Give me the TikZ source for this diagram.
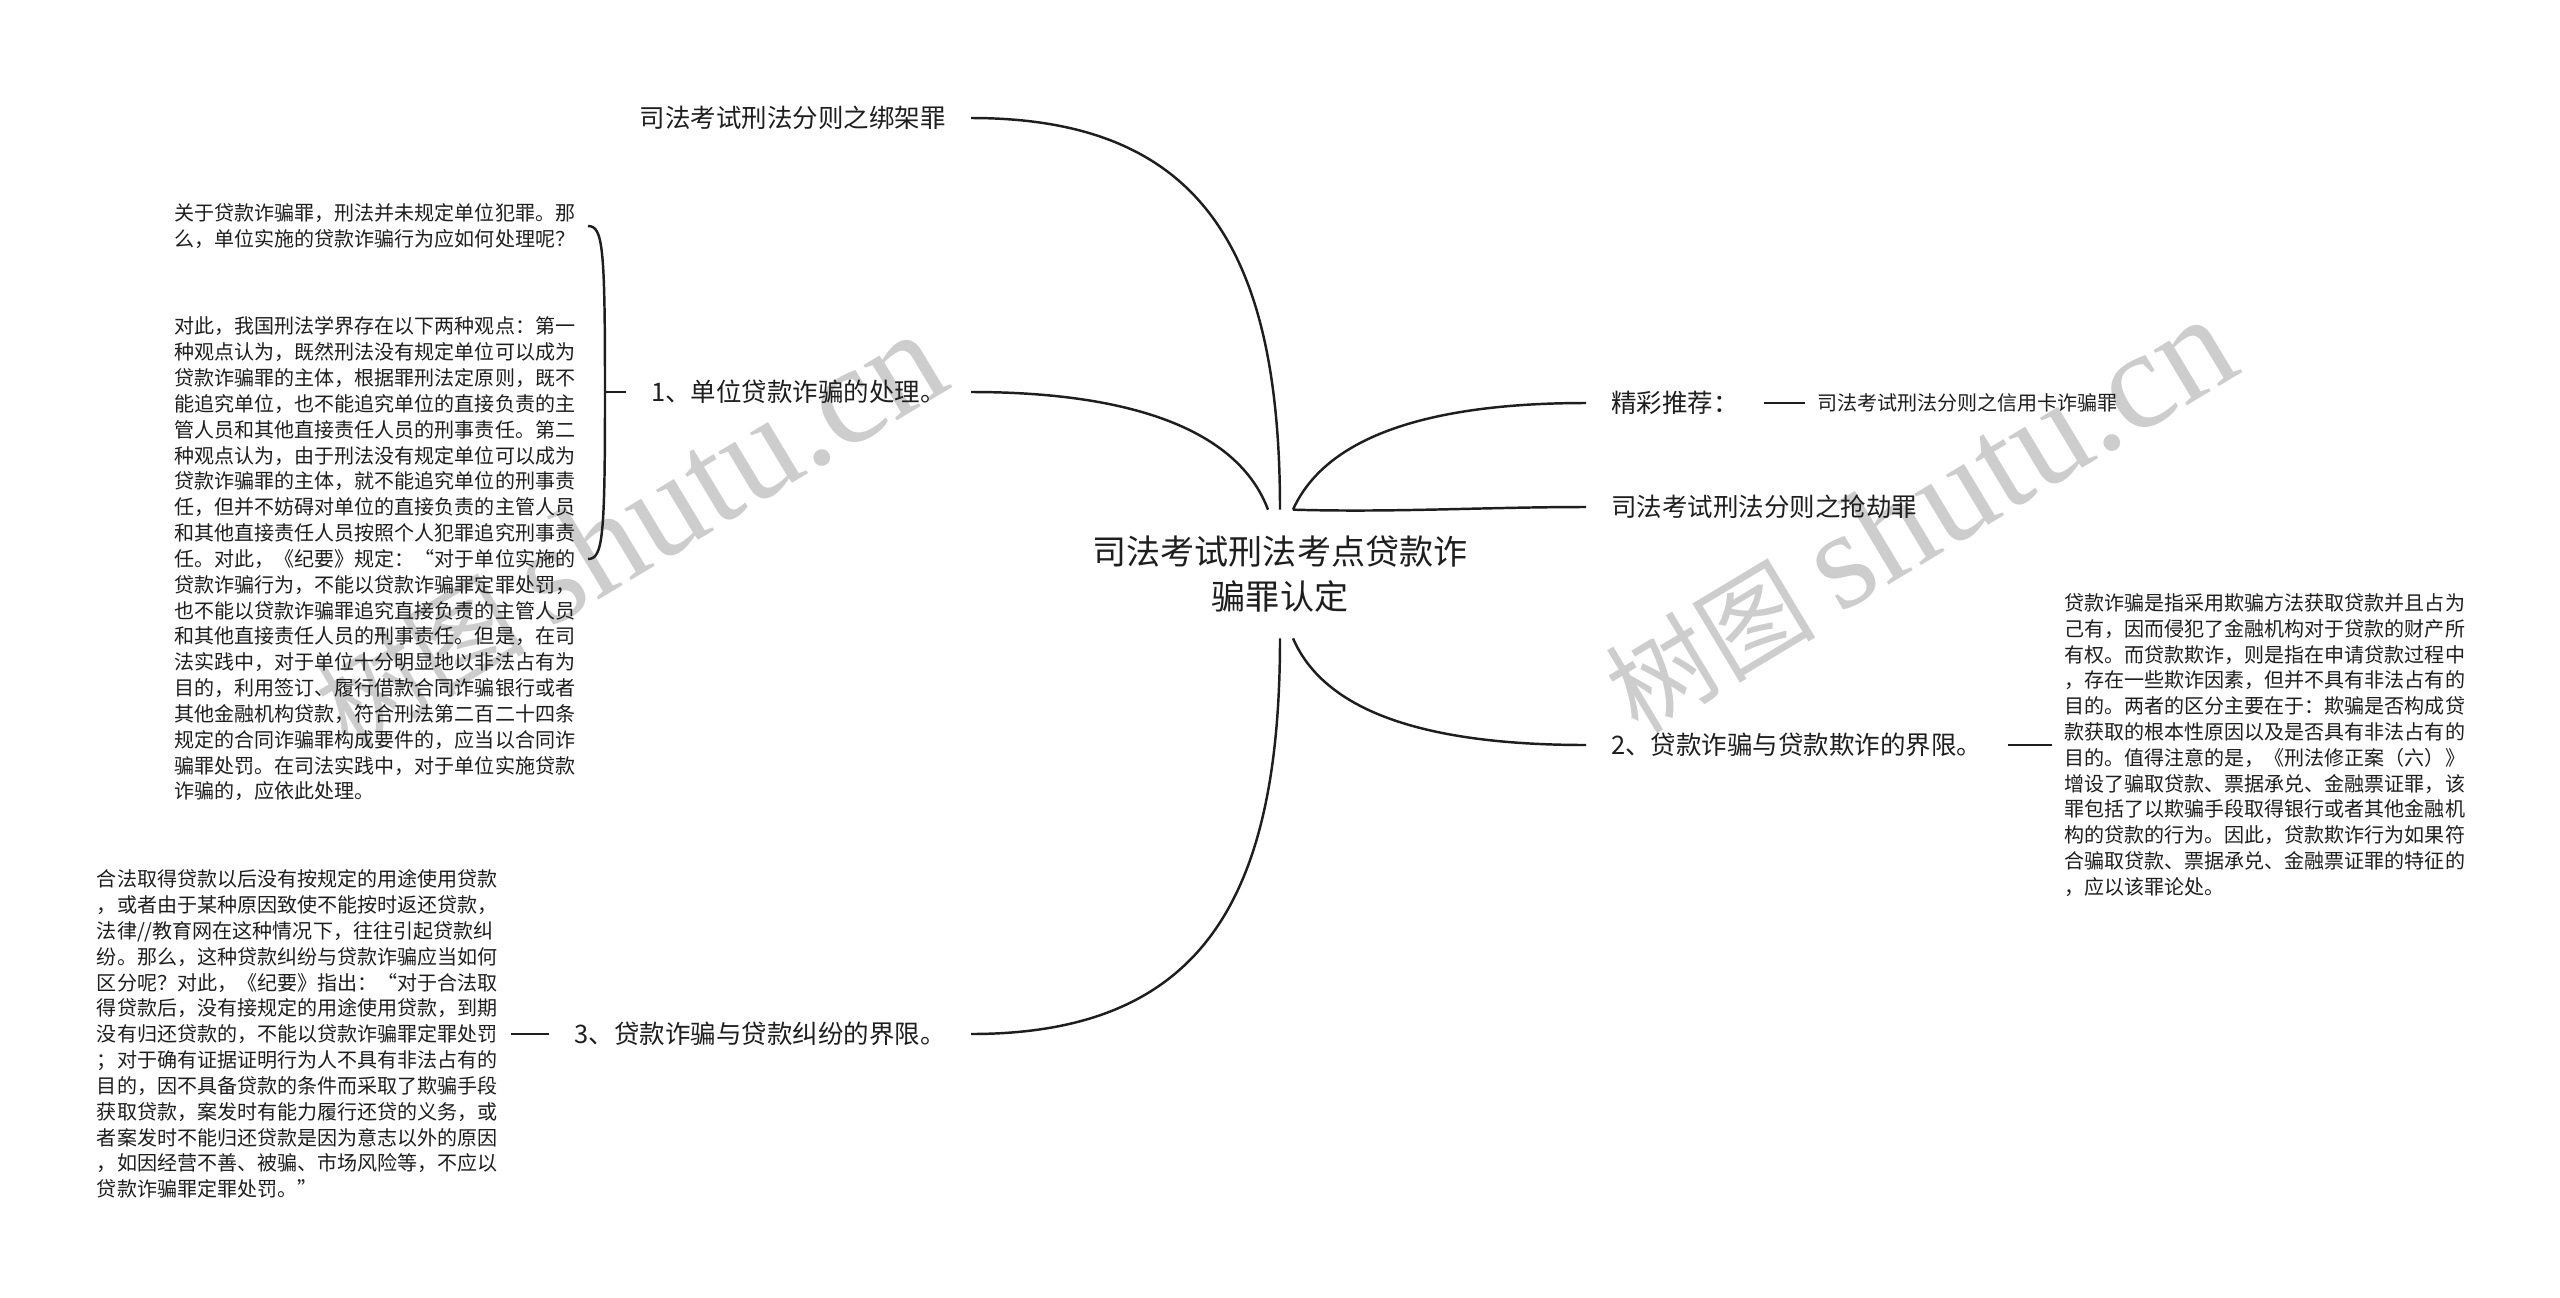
\documentclass[tikz,border=0pt]{standalone}
\usepackage{fontspec}
\setmainfont{Noto Sans CJK SC}
\newfontfamily\wmlatin{Liberation Serif}
\usetikzlibrary{calc}
\definecolor{Ink}{HTML}{1E1E1E}
\definecolor{Mark}{HTML}{CDCDCD}

\begin{document}
\begin{tikzpicture}[
  root/.style={font=\fontsize{19.4}{25.5}\selectfont,align=center,text=Ink,inner sep=0pt,minimum height=2.56cm},
  topic/.style={font=\fontsize{14.5}{18}\selectfont,text=Ink,inner xsep=0.5cm,inner ysep=0.1cm},
  leaf/.style={font=\fontsize{11.4}{14.7}\selectfont,align=left,text=Ink,inner xsep=0.25cm,inner ysep=0.1cm},
  wmark/.style={font=\fontsize{60}{60}\selectfont,text=Mark,inner sep=0pt,rotate=31},
  branch/.style={draw=Ink,line width=1.4pt},
  stub/.style={draw=Ink,line width=1.4pt}
]
\useasboundingbox (0,0) rectangle (51.2,-25.94);
\fill[white] (0,0) rectangle (51.2,-25.94);
% watermarks
\node[wmark] (wmleft) at (12.57,-10.6) {树图 {\wmlatin\fontsize{80}{80}\selectfont shutu.cn}};
\node[wmark] (wmright) at (38.37,-10.3) {树图 {\wmlatin\fontsize{80}{80}\selectfont shutu.cn}};
% centre and main topics
\node[root] (root) at (25.6,-11.48) {司法考试刑法考点贷款诈\\骗罪认定};
\node[topic,anchor=east] (kidnap) at (19.42,-2.36) {司法考试刑法分则之绑架罪};
\node[topic,anchor=east] (unitfraud) at (19.42,-7.84) {1、单位贷款诈骗的处理。};
\node[topic,anchor=east] (disputevs) at (19.42,-20.68) {3、贷款诈骗与贷款纠纷的界限。};
\node[topic,anchor=west] (recommend) at (31.72,-8.06) {精彩推荐：};
\node[topic,anchor=west] (robbery) at (31.72,-10.14) {司法考试刑法分则之抢劫罪};
\node[topic,anchor=west] (fraudvs) at (31.72,-14.9) {2、贷款诈骗与贷款欺诈的界限。};
% leaves
\node[leaf,anchor=west] (creditcard) at (36.09,-8.06) {司法考试刑法分则之信用卡诈骗罪};
\node[leaf,anchor=east] (unitq) at (11.76,-4.52) {关于贷款诈骗罪，刑法并未规定单位犯罪。那\\
么，单位实施的贷款诈骗行为应如何处理呢？};
\node[leaf,anchor=east] (unitans) at (11.76,-11.18) {对此，我国刑法学界存在以下两种观点：第一\\
种观点认为，既然刑法没有规定单位可以成为\\
贷款诈骗罪的主体，根据罪刑法定原则，既不\\
能追究单位，也不能追究单位的直接负责的主\\
管人员和其他直接责任人员的刑事责任。第二\\
种观点认为，由于刑法没有规定单位可以成为\\
贷款诈骗罪的主体，就不能追究单位的刑事责\\
任，但并不妨碍对单位的直接负责的主管人员\\
和其他直接责任人员按照个人犯罪追究刑事责\\
任。对此，《纪要》规定：“对于单位实施的\\
贷款诈骗行为，不能以贷款诈骗罪定罪处罚，\\
也不能以贷款诈骗罪追究直接负责的主管人员\\
和其他直接责任人员的刑事责任。但是，在司\\
法实践中，对于单位十分明显地以非法占有为\\
目的，利用签订、履行借款合同诈骗银行或者\\
其他金融机构贷款，符合刑法第二百二十四条\\
规定的合同诈骗罪构成要件的，应当以合同诈\\
骗罪处罚。在司法实践中，对于单位实施贷款\\
诈骗的，应依此处理。};
\node[leaf,anchor=east] (disputetxt) at (10.21,-20.68) {合法取得贷款以后没有按规定的用途使用贷款\\
，或者由于某种原因致使不能按时返还贷款，\\
法律//教育网在这种情况下，往往引起贷款纠\\
纷。那么，这种贷款纠纷与贷款诈骗应当如何\\
区分呢？对此，《纪要》指出：“对于合法取\\
得贷款后，没有接规定的用途使用贷款，到期\\
没有归还贷款的，不能以贷款诈骗罪定罪处罚\\
；对于确有证据证明行为人不具有非法占有的\\
目的，因不具备贷款的条件而采取了欺骗手段\\
获取贷款，案发时有能力履行还贷的义务，或\\
者案发时不能归还贷款是因为意志以外的原因\\
，如因经营不善、被骗、市场风险等，不应以\\
贷款诈骗罪定罪处罚。”};
\node[leaf,anchor=west] (fraudtxt) at (41.03,-14.9) {贷款诈骗是指采用欺骗方法获取贷款并且占为\\
己有，因而侵犯了金融机构对于贷款的财产所\\
有权。而贷款欺诈，则是指在申请贷款过程中\\
，存在一些欺诈因素，但并不具有非法占有的\\
目的。两者的区分主要在于：欺骗是否构成贷\\
款获取的根本性原因以及是否具有非法占有的\\
目的。值得注意的是，《刑法修正案（六）》\\
增设了骗取贷款、票据承兑、金融票证罪，该\\
罪包括了以欺骗手段取得银行或者其他金融机\\
构的贷款的行为。因此，贷款欺诈行为如果符\\
合骗取贷款、票据承兑、金融票证罪的特征的\\
，应以该罪论处。};
\coordinate (bracejoint) at (12.1,-7.84);
% branches out of the centre
\draw[branch] (root.north) .. controls +(0,5.2) and +(4.6,0) .. (kidnap.east);
\draw[branch] ([xshift=-0.24cm]root.north) .. controls +(-0.6,1.6) and +(3.2,0) .. (unitfraud.east);
\draw[branch] (root.south) .. controls +(0,-5.24) and +(4.6,0) .. (disputevs.east);
\draw[branch] ([xshift=0.26cm]root.north) .. controls +(0.54,1.2) and +(-3.72,0) .. (recommend.west);
\draw[branch] ([xshift=0.26cm]root.north) .. controls +(2.0,-0.06) and +(-2.0,0) .. (robbery.west);
\draw[branch] ([xshift=0.26cm]root.south) .. controls +(0.54,-1.24) and +(-3.72,0) .. (fraudvs.west);
% short links to the leaves
\foreach \a/\b in {unitfraud.west/bracejoint,disputevs.west/disputetxt.east,fraudvs.east/fraudtxt.west,recommend.east/creditcard.west} {
  \draw[stub] (\a) -- (\b);
}
\draw[branch] (bracejoint) .. controls +(0,2.9) and +(0.3,0) .. (unitq.east);
\draw[branch] (bracejoint) .. controls +(0,-2.9) and +(0.3,0) .. (unitans.east);
\end{tikzpicture}
\end{document}
